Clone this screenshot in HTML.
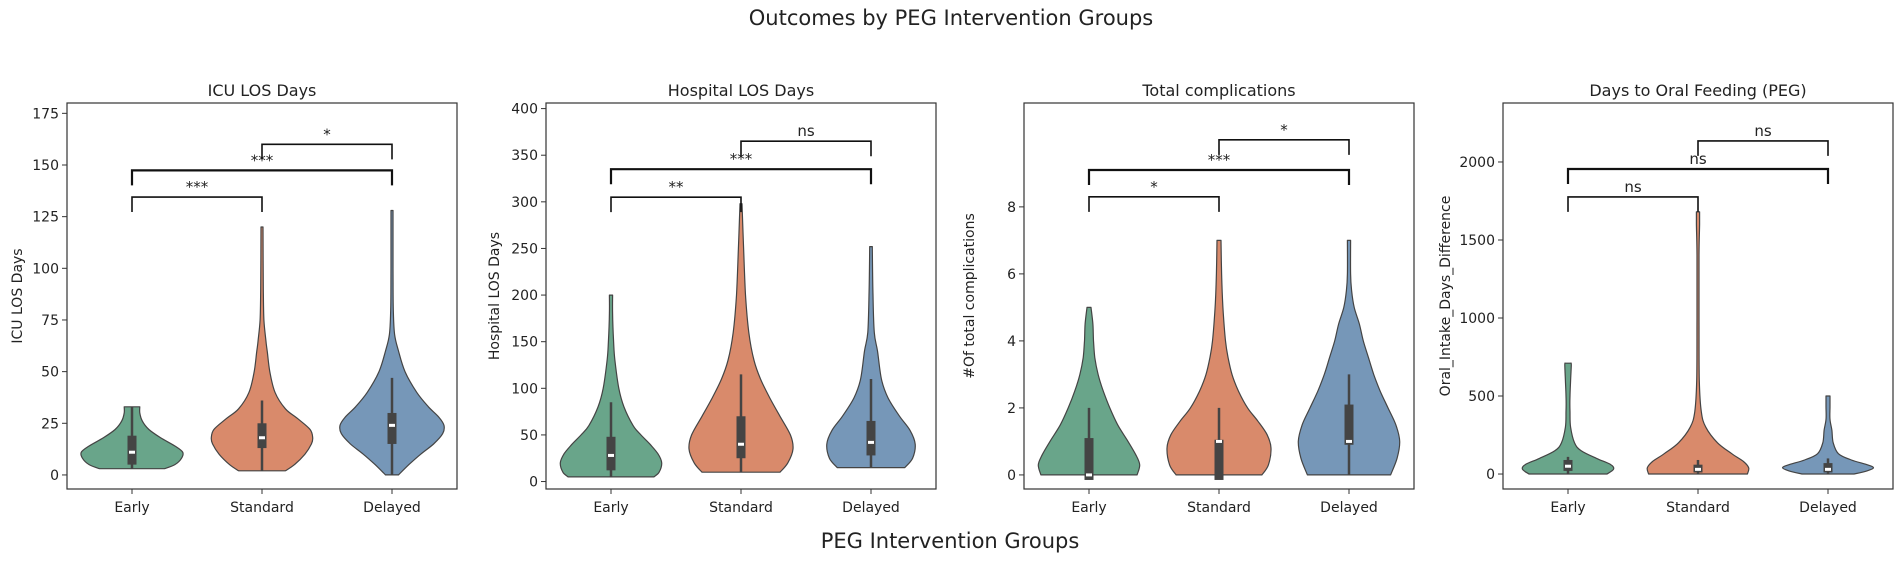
<!DOCTYPE html>
<html><head><meta charset="utf-8"><style>
html,body{margin:0;padding:0;background:#fff;}
svg text{font-family:"DejaVu Sans","Liberation Sans",sans-serif;fill:#222;}
</style></head><body>
<svg id="chart" width="1902" height="556" viewBox="0 0 1902 556" xmlns="http://www.w3.org/2000/svg">
<text x="951" y="25" text-anchor="middle" font-size="21">Outcomes by PEG Intervention Groups</text>
<text x="950" y="548" text-anchor="middle" font-size="21">PEG Intervention Groups</text>
</svg>
<script>
const categories = ["Early","Standard","Delayed"];
const panelTitles = ["ICU LOS Days","Hospital LOS Days","Total complications","Days to Oral Feeding (PEG)"];
const yLabels = ["ICU LOS Days","Hospital LOS Days","#Of total complications","Oral_Intake_Days_Difference"];
const ticks0 = [0,25,50,75,100,125,150,175];
const ticks1 = [0,50,100,150,200,250,300,350,400];
const ticks2 = [0,2,4,6,8];
const ticks3 = [0,500,1000,1500,2000];
// violin profiles: [value, half-width in category units]
const icuEarly = [[3,0.25],[5,0.33],[8,0.38],[11,0.39],[14,0.33],[18,0.22],[22,0.13],[26,0.08],[30,0.06],[33,0.06]];
const icuStandard = [[2,0.18],[5,0.25],[10,0.33],[15,0.38],[18,0.39],[22,0.37],[27,0.28],[32,0.18],[40,0.1],[50,0.06],[60,0.04],[65,0.03],[75,0.015],[90,0.01],[120,0.008]];
const icuDelayed = [[0,0.05],[5,0.13],[10,0.22],[15,0.32],[20,0.39],[24,0.4],[28,0.36],[33,0.28],[40,0.19],[50,0.1],[60,0.05],[68,0.02],[80,0.01],[100,0.008],[128,0.008]];
const hospEarly = [[5,0.33],[10,0.37],[20,0.39],[30,0.36],[40,0.3],[50,0.23],[60,0.17],[80,0.1],[100,0.06],[130,0.03],[150,0.02],[180,0.012],[200,0.012]];
const hospStandard = [[10,0.3],[20,0.36],[35,0.4],[50,0.38],[70,0.3],[90,0.22],[110,0.15],[130,0.1],[160,0.06],[200,0.035],[250,0.02],[298,0.008]];
const hospDelayed = [[15,0.26],[25,0.32],[40,0.34],[55,0.3],[70,0.22],[90,0.13],[110,0.08],[140,0.05],[160,0.025],[200,0.015],[252,0.01]];
const compEarly = [[0,0.37],[0.3,0.39],[0.6,0.36],[1,0.3],[1.5,0.22],[2,0.16],[2.5,0.11],[3,0.07],[3.5,0.045],[4,0.035],[4.5,0.03],[5,0.015]];
const compStandard = [[0,0.33],[0.3,0.38],[0.8,0.4],[1.2,0.37],[1.6,0.3],[2,0.22],[2.5,0.15],[3,0.1],[3.5,0.07],[4,0.05],[5,0.03],[6,0.02],[7,0.015]];
const compDelayed = [[0,0.32],[0.5,0.37],[1,0.39],[1.5,0.36],[2,0.3],[2.5,0.24],[3,0.19],[3.5,0.15],[4,0.11],[4.5,0.08],[5,0.04],[5.5,0.02],[6,0.012],[7,0.012]];
const oralEarly = [[0,0.3],[30,0.35],[60,0.33],[100,0.22],[150,0.1],[200,0.05],[300,0.02],[400,0.015],[500,0.015],[600,0.02],[700,0.025],[710,0.02]];
const oralStandard = [[0,0.38],[40,0.39],[80,0.35],[130,0.26],[200,0.15],[300,0.06],[400,0.025],[600,0.01],[1000,0.008],[1400,0.008],[1600,0.012],[1680,0.012]];
const oralDelayed = [[0,0.2],[20,0.3],[40,0.35],[60,0.3],[90,0.18],[130,0.08],[200,0.04],[280,0.03],[350,0.015],[430,0.015],[500,0.015]];
// box stats: [whiskerLow, q1, median, q3, whiskerHigh]
const icuBoxes = [[3,5,11,19,33],[2,13,18,25,36],[0,15,24,30,47]];
const hospBoxes = [[5,12,28,48,85],[10,25,40,70,115],[15,28,42,65,110]];
const compBoxes = [[-0.1,-0.15,0,1.1,2],[-0.1,-0.15,1,1.05,2],[0,0.9,1,2.1,3]];
const oralBoxes = [[0,20,50,90,110],[0,10,30,60,90],[0,10,30,70,100]];
// significance brackets: heights in data units, labels
const icuBrackets = [134.5,147.4,160];
const icuSig = ["***","***","*"];
const hospBrackets = [305,335,365];
const hospSig = ["**","***","ns"];
const compBrackets = [8.3,9.1,10.0];
const compSig = ["*","***","*"];
const oralBrackets = [1776,1955,2135];
const oralSig = ["ns","ns","ns"];
const bracketPairs = [[0,1],[0,2],[1,2]];

const colors = ["#69a58a","#d98a6b","#7697b8"];
const NS = "http://www.w3.org/2000/svg";
const svg = document.getElementById("chart");
function mk(tag, attrs, parent){const e=document.createElementNS(NS,tag);for(const k in attrs)e.setAttribute(k,attrs[k]);(parent||svg).appendChild(e);return e;}
function smooth(pts){
  // Catmull-Rom through points (open curve)
  let d = `M${pts[0][0].toFixed(1)},${pts[0][1].toFixed(1)}`;
  for(let i=0;i<pts.length-1;i++){
    const p0=pts[Math.max(0,i-1)], p1=pts[i], p2=pts[i+1], p3=pts[Math.min(pts.length-1,i+2)];
    const c1=[p1[0]+(p2[0]-p0[0])/6, p1[1]+(p2[1]-p0[1])/6];
    const c2=[p2[0]-(p3[0]-p1[0])/6, p2[1]-(p3[1]-p1[1])/6];
    d += ` C${c1[0].toFixed(1)},${c1[1].toFixed(1)} ${c2[0].toFixed(1)},${c2[1].toFixed(1)} ${p2[0].toFixed(1)},${p2[1].toFixed(1)}`;
  }
  return d;
}

const panels = [
 {left:67,ymin:-6.8,ymax:180,ticks:ticks0,v:[icuEarly,icuStandard,icuDelayed],box:icuBoxes,br:icuBrackets,sig:icuSig,ylx:17},
 {left:546,ymin:-8,ymax:406,ticks:ticks1,v:[hospEarly,hospStandard,hospDelayed],box:hospBoxes,br:hospBrackets,sig:hospSig,ylx:494},
 {left:1024,ymin:-0.42,ymax:11.1,ticks:ticks2,v:[compEarly,compStandard,compDelayed],box:compBoxes,br:compBrackets,sig:compSig,ylx:969},
 {left:1503,ymin:-96,ymax:2378,ticks:ticks3,v:[oralEarly,oralStandard,oralDelayed],box:oralBoxes,br:oralBrackets,sig:oralSig,ylx:1445}
];
const TOP=103, BOT=489, W=390;
panels.forEach((p,pi)=>{
  const g = mk("g",{});
  
  
  const y = v => BOT - (v - p.ymin)/(p.ymax - p.ymin)*(BOT-TOP);
  const x = i => p.left + (i+0.5)*W/3;
  const xw = w => w*W/3;
  p.v.forEach((prof,ci)=>{
    const right = prof.map(d=>[x(ci)+xw(d[1]), y(d[0])]);
    const left = prof.slice().reverse().map(d=>[x(ci)-xw(d[1]), y(d[0])]);
    const dR = smooth(right);
    const dL = smooth(left).replace(/^M/,"L");
    const path = mk("path",{d:dR+" "+dL+" Z",fill:colors[ci],stroke:"#444","stroke-width":1.2,"stroke-linejoin":"round"},g);
    
    
    const b = p.box[ci];
    const wl = mk("line",{x1:x(ci),x2:x(ci),y1:y(b[0]),y2:y(b[4]),stroke:"#444","stroke-width":2.5},g);
    
    
    const bx = mk("rect",{x:x(ci)-4.5,y:y(b[3]),width:9,height:Math.max(1,y(b[1])-y(b[3])),fill:"#444"},g);
    
    
    const md = mk("rect",{x:x(ci)-3,y:y(b[2])-1.5,width:6,height:3,fill:"#fff"},g);
    
    
  });
  p.br.forEach((h,bi)=>{
    const a=bracketPairs[bi][0], c=bracketPairs[bi][1];
    const yy=y(h);
    const path = mk("path",{d:`M${x(a)},${yy+15} V${yy} H${x(c)} V${yy+15}`,fill:"none",stroke:"#111","stroke-width":bi===1?2.2:1.6},g);
    
    
    const t = mk("text",{x:(x(a)+x(c))/2,y:yy-5,"text-anchor":"middle","font-size":15},g);
    t.textContent = p.sig[bi];
    
    
  });
  const fr = mk("rect",{x:p.left,y:TOP,width:W,height:BOT-TOP,fill:"none",stroke:"#333","stroke-width":1.2},g);
  
  
  p.ticks.forEach(t=>{
    mk("line",{x1:p.left-5,x2:p.left,y1:y(t),y2:y(t),stroke:"#333"},g);
    const tl = mk("text",{x:p.left-8,y:y(t)+5,"text-anchor":"end","font-size":14},g);
    tl.textContent = t;
    
    
  });
  categories.forEach((c,ci)=>{
    mk("line",{x1:x(ci),x2:x(ci),y1:BOT,y2:BOT+5,stroke:"#333"},g);
    const tl = mk("text",{x:x(ci),y:BOT+23,"text-anchor":"middle","font-size":14},g);
    tl.textContent = c;
    
    
  });
  const tt = mk("text",{x:p.left+W/2,y:96,"text-anchor":"middle","font-size":16},g);
  tt.textContent = panelTitles[pi];
  
  
  const yl = mk("text",{x:p.ylx,y:(TOP+BOT)/2,"text-anchor":"middle","font-size":14,transform:`rotate(-90 ${p.ylx} ${(TOP+BOT)/2})`,dy:5},g);
  yl.textContent = yLabels[pi];
  
  
});
</script>
</body></html>
